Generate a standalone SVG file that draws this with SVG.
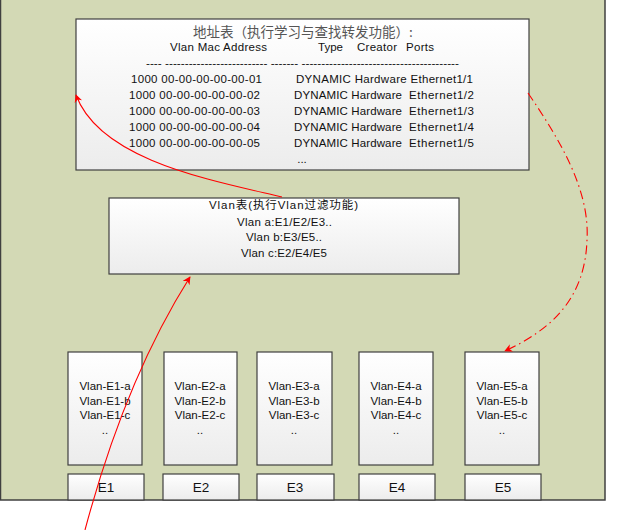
<svg xmlns="http://www.w3.org/2000/svg" width="635" height="530" viewBox="0 0 635 530">
<defs>
<linearGradient id="g" x1="0" y1="0" x2="0" y2="1">
<stop offset="0" stop-color="#ffffff"/>
<stop offset="1" stop-color="#ececec"/>
</linearGradient>
<marker id="ah" viewBox="0 0 10 10" refX="9" refY="5" markerWidth="8" markerHeight="8" markerUnits="userSpaceOnUse" orient="auto">
<path d="M0,0 L10,5 L0,10 L3,5 z" fill="#ff0000"/>
</marker>
<style>
.box{fill:url(#g);stroke:#404040;stroke-width:1.2}
.t{font-family:"Liberation Sans",Arial,sans-serif;font-size:11.5px;fill:#111}
.c{text-anchor:middle}
.zh{font-family:"Noto Sans CJK SC",sans-serif;font-size:13.5px;fill:#555}
.vt{font-family:"Liberation Sans","Noto Sans CJK SC",sans-serif;font-size:11.5px;fill:#111}
.e{font-family:"Liberation Sans",Arial,sans-serif;font-size:13.5px;fill:#111;text-anchor:middle}
.red{fill:none;stroke:#ff0000;stroke-width:1.1}
</style>
</defs>
<rect x="0.5" y="-1" width="604.5" height="501" fill="#d3d9b5" stroke="#404040" stroke-width="1.5"/>

<g id="addr">
<rect class="box" x="76" y="19" width="453" height="151"/>
<text class="zh c" x="303" y="37">地址表（执行学习与查找转发功能）:</text>
<text class="t" x="170" y="51" textLength="97">Vlan Mac Address</text>
<text class="t" x="318" y="51" textLength="25">Type</text>
<text class="t" x="357" y="51" textLength="40">Creator</text>
<text class="t" x="406" y="51" textLength="28">Ports</text>
<text class="t" x="146" y="67" textLength="313" lengthAdjust="spacingAndGlyphs">---- -------------------------- ------- ----------------------------------------</text>
<text class="t" x="131" y="83" textLength="131">1000 00-00-00-00-00-01</text>
<text class="t" x="296" y="83" textLength="177">DYNAMIC Hardware Ethernet1/1</text>
<text class="t" x="129" y="99" textLength="131">1000 00-00-00-00-00-02</text>
<text class="t" x="294" y="99" textLength="108">DYNAMIC Hardware</text>
<text class="t" x="409" y="99" textLength="65">Ethernet1/2</text>
<text class="t" x="129" y="115" textLength="131">1000 00-00-00-00-00-03</text>
<text class="t" x="294" y="115" textLength="108">DYNAMIC Hardware</text>
<text class="t" x="409" y="115" textLength="65">Ethernet1/3</text>
<text class="t" x="129" y="131" textLength="131">1000 00-00-00-00-00-04</text>
<text class="t" x="294" y="131" textLength="108">DYNAMIC Hardware</text>
<text class="t" x="409" y="131" textLength="65">Ethernet1/4</text>
<text class="t" x="129" y="147" textLength="131">1000 00-00-00-00-00-05</text>
<text class="t" x="294" y="147" textLength="108">DYNAMIC Hardware</text>
<text class="t" x="409" y="147" textLength="65">Ethernet1/5</text>
<text class="t c" x="302" y="163">...</text>
</g>

<g id="vlan">
<rect class="box" x="109" y="198" width="350" height="76"/>
<text class="vt" x="209" y="209" textLength="149">Vlan表(执行Vlan过滤功能)</text>
<text class="t" x="237" y="226" textLength="95">Vlan a:E1/E2/E3..</text>
<text class="t" x="246" y="241" textLength="76">Vlan b:E3/E5..</text>
<text class="t" x="241" y="257" textLength="86">Vlan c:E2/E4/E5</text>
</g>

<g id="p1">
<rect class="box" x="68" y="352" width="74" height="113"/>
<text class="t c" x="105" y="390">Vlan-E1-a</text>
<text class="t c" x="105" y="405">Vlan-E1-b</text>
<text class="t c" x="105" y="419">Vlan-E1-c</text>
<text class="t c" x="105" y="434">..</text>
</g>
<g id="p2">
<rect class="box" x="164" y="352" width="73" height="113"/>
<text class="t c" x="200" y="390">Vlan-E2-a</text>
<text class="t c" x="200" y="405">Vlan-E2-b</text>
<text class="t c" x="200" y="419">Vlan-E2-c</text>
<text class="t c" x="200" y="434">..</text>
</g>
<g id="p3">
<rect class="box" x="257" y="352" width="75" height="113"/>
<text class="t c" x="294" y="390">Vlan-E3-a</text>
<text class="t c" x="294" y="405">Vlan-E3-b</text>
<text class="t c" x="294" y="419">Vlan-E3-c</text>
<text class="t c" x="294" y="434">..</text>
</g>
<g id="p4">
<rect class="box" x="359" y="352" width="74" height="113"/>
<text class="t c" x="396" y="390">Vlan-E4-a</text>
<text class="t c" x="396" y="405">Vlan-E4-b</text>
<text class="t c" x="396" y="419">Vlan-E4-c</text>
<text class="t c" x="396" y="434">..</text>
</g>
<g id="p5">
<rect class="box" x="465" y="352" width="74" height="113"/>
<text class="t c" x="502" y="390">Vlan-E5-a</text>
<text class="t c" x="502" y="405">Vlan-E5-b</text>
<text class="t c" x="502" y="419">Vlan-E5-c</text>
<text class="t c" x="502" y="434">..</text>
</g>

<g id="e1"><rect class="box" x="68" y="474" width="76" height="26"/><text class="e" x="106" y="492">E1</text></g>
<g id="e2"><rect class="box" x="163" y="474" width="76" height="26"/><text class="e" x="201" y="492">E2</text></g>
<g id="e3"><rect class="box" x="257" y="474" width="77" height="26"/><text class="e" x="295" y="492">E3</text></g>
<g id="e4"><rect class="box" x="359" y="474" width="76" height="26"/><text class="e" x="397" y="492">E4</text></g>
<g id="e5"><rect class="box" x="465" y="474" width="76" height="26"/><text class="e" x="503" y="492">E5</text></g>

<g id="connectors">
<path class="red" d="M282,197 C210,180 100,160 76,95" marker-end="url(#ah)"/>
<path class="red" d="M85,530 Q125,380 190,277" marker-end="url(#ah)"/>
<path class="red" d="M528,93 C560,140 590,190 587,240 C585,300 550,330 505,351" stroke-dasharray="9,4,1.5,4" marker-end="url(#ah)"/>
</g>
</svg>
